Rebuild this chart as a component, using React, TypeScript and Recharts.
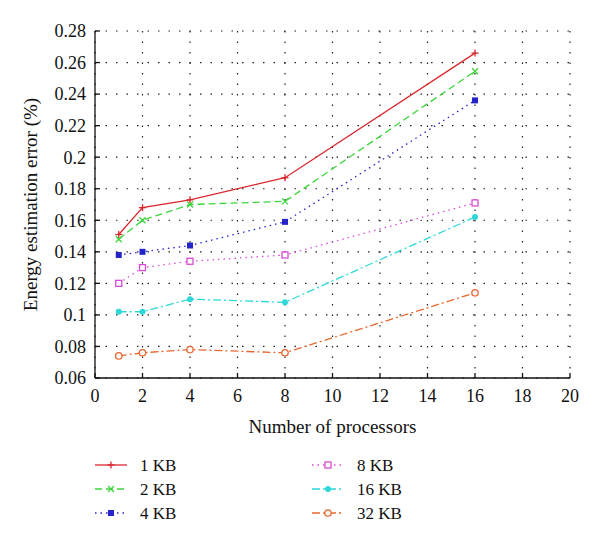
import React from 'react';
import { LineChart, Line, XAxis, YAxis, CartesianGrid } from 'recharts';

const processors = [1, 2, 4, 8, 16];
const kb1 = [0.151, 0.168, 0.173, 0.187, 0.266];
const kb2 = [0.148, 0.16, 0.17, 0.172, 0.2545];
const kb4 = [0.138, 0.14, 0.144, 0.159, 0.236];
const kb8 = [0.12, 0.13, 0.134, 0.138, 0.171];
const kb16 = [0.102, 0.102, 0.11, 0.108, 0.162];
const kb32 = [0.074, 0.076, 0.078, 0.076, 0.114];

const xTicks = [0, 2, 4, 6, 8, 10, 12, 14, 16, 18, 20];
const yTicks = [0.06, 0.08, 0.1, 0.12, 0.14, 0.16, 0.18, 0.2, 0.22, 0.24, 0.26, 0.28];

const FONT = '"Liberation Serif", "DejaVu Serif", serif';

type Marker = 'plus' | 'cross' | 'fillSquare' | 'square' | 'dot' | 'circle';

const series: { key: string; name: string; values: number[]; color: string; dash?: string; marker: Marker }[] = [
  { key: 'kb1', name: '1 KB', values: kb1, color: '#d9272e', marker: 'plus' },
  { key: 'kb2', name: '2 KB', values: kb2, color: '#3ad63a', dash: '7 4', marker: 'cross' },
  { key: 'kb4', name: '4 KB', values: kb4, color: '#2424c8', dash: '1.5 4', marker: 'fillSquare' },
  { key: 'kb8', name: '8 KB', values: kb8, color: '#d84ad8', dash: '1.5 4', marker: 'square' },
  { key: 'kb16', name: '16 KB', values: kb16, color: '#2ed8d8', dash: '8 3 2 3', marker: 'dot' },
  { key: 'kb32', name: '32 KB', values: kb32, color: '#e8662e', dash: '8 3 2 3', marker: 'circle' },
];

const data = processors.map((p, i) => {
  const row: Record<string, number> = { p };
  series.forEach((s) => (row[s.key] = s.values[i]));
  return row;
});

const drawMarker = (m: Marker, color: string, cx: number, cy: number, key?: string | number) => {
  switch (m) {
    case 'plus':
      return (
        <g key={key}>
          <line x1={cx - 3.5} x2={cx + 3.5} y1={cy} y2={cy} stroke={color} strokeWidth={1.3} />
          <line x1={cx} x2={cx} y1={cy - 3.5} y2={cy + 3.5} stroke={color} strokeWidth={1.3} />
        </g>
      );
    case 'cross':
      return (
        <g key={key}>
          <line x1={cx - 3} x2={cx + 3} y1={cy - 3} y2={cy + 3} stroke={color} strokeWidth={1.3} />
          <line x1={cx - 3} x2={cx + 3} y1={cy + 3} y2={cy - 3} stroke={color} strokeWidth={1.3} />
        </g>
      );
    case 'fillSquare':
      return <rect key={key} x={cx - 3} y={cy - 3} width={6} height={6} fill={color} />;
    case 'square':
      return <rect key={key} x={cx - 3} y={cy - 3} width={6} height={6} fill="#fff" stroke={color} strokeWidth={1.3} />;
    case 'dot':
      return <circle key={key} cx={cx} cy={cy} r={3} fill={color} />;
    default:
      return <circle key={key} cx={cx} cy={cy} r={3.2} fill="#fff" stroke={color} strokeWidth={1.3} />;
  }
};

const fmt = (v: number) => String(Number(v.toFixed(2)));

const tickStyle = { fontSize: 18, fill: '#111', fontFamily: FONT };

const Legend6 = () => (
  <svg width={600} height={90} style={{ position: 'absolute', left: 0, top: 450 }}>
    {series.map((s, i) => {
      const col = Math.floor(i / 3);
      const row = i % 3;
      const x0 = col === 0 ? 95 : 312;
      const y = 15 + row * 24;
      return (
        <g key={s.key}>
          <line x1={x0} x2={x0 + 32} y1={y} y2={y} stroke={s.color} strokeWidth={1.3} strokeDasharray={s.dash} />
          {drawMarker(s.marker, s.color, x0 + 16, y)}
          <text x={x0 + 45} y={y + 6} fontSize={17} fontFamily={FONT} fill="#111">
            {s.name}
          </text>
        </g>
      );
    })}
  </svg>
);

export default function App() {
  return (
    <div style={{ position: 'absolute', left: 0, top: 0, width: 600, height: 547, background: '#fff' }}>
      <LineChart width={600} height={547} data={data} margin={{ top: 31, right: 30, left: 0, bottom: 139 }}>
        <CartesianGrid stroke="#222" strokeDasharray="1.5 9" strokeWidth={1.2} />
        <XAxis
          dataKey="p"
          type="number"
          domain={[0, 20]}
          ticks={xTicks}
          height={30}
          stroke="#111"
          strokeWidth={1.3}
          tickSize={-5}
          tickMargin={16}
          tick={tickStyle}
          label={{
            content: (props: any) => {
              const vb = props.viewBox;
              return (
                <text x={vb.x + vb.width / 2} y={vb.y + 55} textAnchor="middle" fontSize={19} fontFamily={FONT} fill="#111">
                  Number of processors
                </text>
              );
            },
          }}
        />
        <XAxis
          xAxisId="top"
          orientation="top"
          type="number"
          domain={[0, 20]}
          ticks={xTicks}
          height={0}
          stroke="#111"
          strokeWidth={1.3}
          tickSize={-5}
          tick={false}
        />
        <YAxis
          type="number"
          domain={[0.06, 0.28]}
          ticks={yTicks}
          width={95}
          stroke="#111"
          strokeWidth={1.3}
          tickSize={-5}
          tickMargin={14}
          tick={tickStyle}
          tickFormatter={fmt}
          label={{
            content: (props: any) => {
              const vb = props.viewBox;
              const x = vb.x + 33;
              const y = vb.y + vb.height / 2;
              return (
                <text x={x} y={y} transform={`rotate(-90 ${x} ${y})`} textAnchor="middle" dominantBaseline="middle" fontSize={19} fontFamily={FONT} fill="#111">
                  Energy estimation error (%)
                </text>
              );
            },
          }}
        />
        <YAxis
          yAxisId="right"
          orientation="right"
          type="number"
          domain={[0.06, 0.28]}
          ticks={yTicks}
          width={0}
          stroke="#111"
          strokeWidth={1.3}
          tickSize={-5}
          tick={false}
        />
        {series.map((s) => (
          <Line
            key={s.key}
            dataKey={s.key}
            name={s.name}
            stroke={s.color}
            strokeWidth={1.3}
            strokeDasharray={s.dash}
            isAnimationActive={false}
            dot={(props: any) => drawMarker(s.marker, s.color, props.cx, props.cy, `${s.key}-${props.index}`)}
            activeDot={false}
          />
        ))}
      </LineChart>
      <Legend6 />
    </div>
  );
}
